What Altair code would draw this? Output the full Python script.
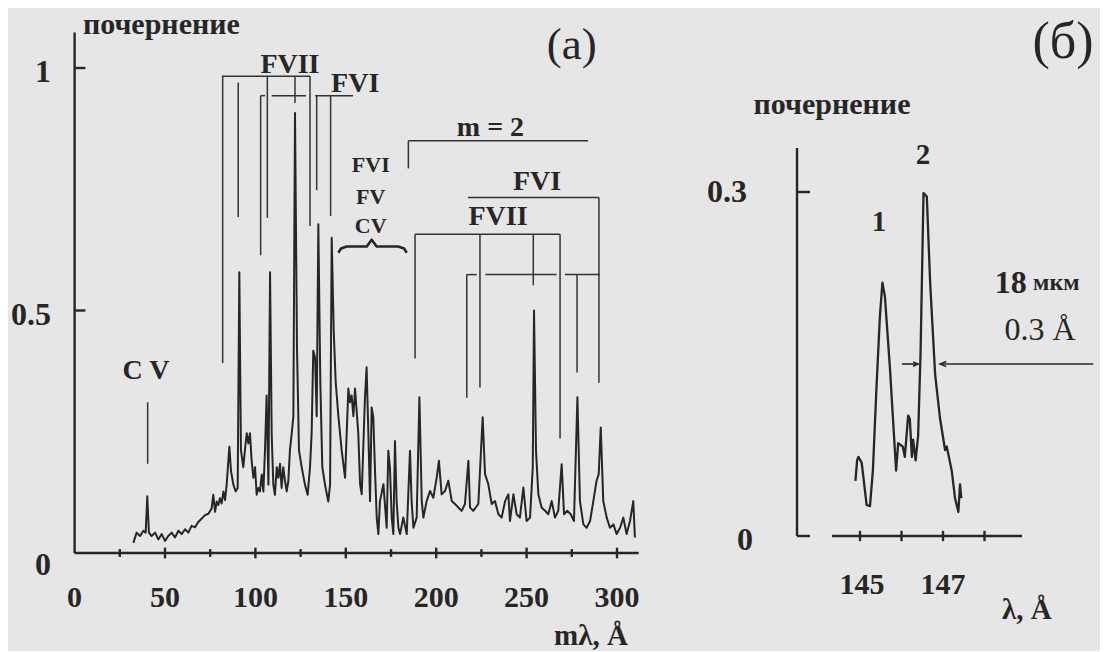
import altair as alt
import pandas as pd

# ---------------- data ----------------
# panel (a): blackening vs m*lambda (Angstrom)
left_x = [32.5, 34.3, 36.2, 38.0, 39.3, 40.2, 41.1, 42.6, 44.5, 46.3, 48.2, 50.0, 51.8, 53.7, 55.5,
          57.4, 59.2, 61.1, 62.9, 64.7, 66.6, 68.4, 70.3, 72.1, 74.0, 75.8, 76.7, 77.7, 78.6, 79.5,
          80.4, 81.3, 82.3, 83.2, 84.1, 85.6, 86.5, 87.8, 89.1, 90.2, 91.1, 92.0, 93.3, 94.2, 95.2,
          96.1, 97.0, 97.9, 98.9, 99.8, 100.7, 101.6, 102.5, 103.5, 104.4, 105.3, 106.2, 107.2, 108.1,
          109.0, 109.9, 110.8, 111.8, 112.7, 113.6, 114.5, 115.4, 116.4, 117.3, 118.2, 119.1, 120.1,
          121.0, 121.9, 123.0, 124.1, 125.6, 127.4, 128.9, 130.2, 131.1, 132.0, 133.0, 133.9, 134.8,
          135.9, 137.0, 138.5, 140.3, 141.3, 142.2, 143.3, 144.4, 145.9, 147.7, 149.6, 151.4, 152.3,
          153.2, 154.2, 155.1, 156.9, 157.9, 158.8, 160.6, 161.5, 162.5, 163.4, 164.3, 165.2, 166.1,
          167.1, 168.0, 168.9, 170.8, 172.6, 173.5, 174.4, 175.4, 176.3, 177.2, 178.1, 179.1, 180.0,
          181.8, 183.7, 185.5, 186.4, 187.4, 189.2, 190.7, 192.0, 192.9, 194.7, 196.6, 198.4, 200.3,
          201.5, 203.0, 204.9, 206.7, 208.6, 210.4, 212.2, 214.1, 215.9, 217.8, 218.7, 220.5, 223.3,
          225.7, 227.0, 228.8, 230.7, 232.5, 234.4, 236.2, 238.1, 239.9, 240.8, 242.7, 244.5, 246.3,
          248.2, 250.0, 251.9, 253.4, 254.1, 255.2, 256.5, 258.3, 260.2, 262.0, 263.9, 265.7, 267.5,
          269.4, 270.7, 272.5, 274.4, 276.2, 278.1, 279.5, 281.4, 283.2, 285.1, 286.9, 288.7, 289.9,
          291.0, 292.4, 294.3, 296.1, 298.0, 299.8, 301.7, 303.5, 305.3, 307.2, 309.0, 309.9]
left_v = [0.021, 0.042, 0.035, 0.046, 0.042, 0.117, 0.042, 0.035, 0.042, 0.028, 0.039, 0.025, 0.035,
          0.042, 0.032, 0.046, 0.039, 0.049, 0.042, 0.056, 0.053, 0.064, 0.071, 0.078, 0.081, 0.092,
          0.120, 0.085, 0.106, 0.099, 0.113, 0.102, 0.127, 0.109, 0.141, 0.219, 0.169, 0.141, 0.127,
          0.134, 0.579, 0.212, 0.177, 0.212, 0.247, 0.226, 0.247, 0.191, 0.155, 0.177, 0.120, 0.134,
          0.127, 0.162, 0.127, 0.212, 0.325, 0.141, 0.579, 0.247, 0.141, 0.120, 0.177, 0.155, 0.184,
          0.134, 0.177, 0.148, 0.127, 0.148, 0.212, 0.247, 0.282, 0.907, 0.424, 0.212, 0.177, 0.141,
          0.120, 0.177, 0.247, 0.417, 0.403, 0.282, 0.678, 0.353, 0.177, 0.141, 0.106, 0.141, 0.650,
          0.459, 0.353, 0.282, 0.212, 0.155, 0.339, 0.311, 0.325, 0.282, 0.339, 0.247, 0.142, 0.121,
          0.321, 0.383, 0.245, 0.107, 0.300, 0.280, 0.176, 0.073, 0.039, 0.107, 0.142, 0.052, 0.211,
          0.176, 0.073, 0.039, 0.231, 0.107, 0.052, 0.039, 0.073, 0.039, 0.211, 0.107, 0.052, 0.073,
          0.321, 0.107, 0.073, 0.107, 0.128, 0.114, 0.156, 0.190, 0.121, 0.128, 0.149, 0.107, 0.101,
          0.094, 0.087, 0.101, 0.190, 0.094, 0.087, 0.101, 0.280, 0.163, 0.142, 0.101, 0.107, 0.080,
          0.073, 0.107, 0.121, 0.066, 0.121, 0.080, 0.073, 0.135, 0.066, 0.073, 0.176, 0.500, 0.211,
          0.121, 0.094, 0.087, 0.080, 0.107, 0.073, 0.087, 0.183, 0.080, 0.087, 0.080, 0.066, 0.321,
          0.107, 0.059, 0.052, 0.066, 0.107, 0.149, 0.163, 0.259, 0.107, 0.073, 0.052, 0.059, 0.039,
          0.052, 0.073, 0.039, 0.066, 0.107, 0.032]

# panel (б): blackening vs lambda (Angstrom)
right_lam = [144.89, 144.93, 144.96, 145.04, 145.16, 145.24, 145.31, 145.40, 145.48, 145.54, 145.60,
             145.72, 145.87, 145.92, 146.03, 146.08, 146.16, 146.20, 146.25, 146.28, 146.34, 146.40,
             146.46, 146.53, 146.61, 146.69, 146.81, 146.93, 147.05, 147.09, 147.21, 147.29, 147.37,
             147.41, 147.44]
right_v = [0.048, 0.066, 0.069, 0.064, 0.027, 0.026, 0.057, 0.132, 0.192, 0.221, 0.209, 0.147, 0.057,
           0.081, 0.078, 0.069, 0.105, 0.102, 0.069, 0.084, 0.066, 0.087, 0.161, 0.299, 0.296, 0.221,
           0.141, 0.102, 0.075, 0.078, 0.057, 0.033, 0.021, 0.045, 0.033]

# axes / ticks
left_major = [50, 100, 150, 200, 250, 300]
left_minor = [25, 75, 125, 175, 225, 275]
left_xlabels = ["0", "50", "100", "150", "200", "250", "300"]
left_xlabel_pos = [0, 50, 100, 150, 200, 250, 300]
left_yticks = [0.5, 1.0]
left_ylabels = ["0", "0.5", "1"]
left_ylabel_pos = [-0.025, 0.49, 0.992]
right_xticks = [145, 146, 147, 148]
right_xlabels = ["145", "147"]
right_xlabel_pos = [145.05, 147.0]
right_yticks = [0.0, 0.3]

# line identifications (x position, top, bottom) in data units
fvii_a = [(81.9, 0.983, 0.392), (90.5, 0.970, 0.693), (106.6, 0.983, 0.691),
          (121.9, 0.983, 0.928), (130.2, 0.983, 0.674)]
fvi_a = [(102.9, 0.943, 0.614), (133.9, 0.943, 0.748), (141.6, 0.943, 0.695)]
fvi_a_bar = [(102.9, 105.3), (109.0, 128.0), (133.0, 154.0)]
cv_mark = (40.4, 0.311, 0.184)
m2_bar = (184.6, 284.0, 0.850, 0.793)
fvi_b_outer = (217.6, 290.0, 0.733, 0.351)
fvii_b = [(188.3, 0.657, 0.401), (224.2, 0.657, 0.341), (253.7, 0.657, 0.552), (268.5, 0.657, 0.236)]
fvii_b_bar = (188.3, 268.5, 0.657)
fvi_b_inner = [(216.9, 0.574, 0.320), (277.9, 0.574, 0.372)]
fvi_b_inner_bar = [(216.9, 222.4), (227.2, 266.6), (271.2, 290.6)]
fvi_b_inner_y = 0.574
brace_x = [145.9, 147.4, 150.5, 161.6, 164.3, 167.1, 179.0, 182.2, 183.7]
brace_v = [0.619, 0.628, 0.632, 0.632, 0.646, 0.632, 0.632, 0.628, 0.619]

# ---------------- styling ----------------
FONT = "Liberation Serif"
INK = "#262626"
BG = "#e6e6e6"

LX = alt.Scale(domain=[-36.84, 350.33], nice=False, zero=False)
LY = alt.Scale(domain=[-0.1876, 1.1237], nice=False, zero=False)
RX = alt.Scale(domain=[141.337, 150.783], nice=False, zero=False)
RY = alt.Scale(domain=[-0.0942, 0.4605], nice=False, zero=False)


def segs(rows, sx, sy, width=1.6, color=INK):
    df = pd.DataFrame(rows, columns=["x", "x2", "y", "y2"])
    return alt.Chart(df).mark_rule(color=color, strokeWidth=width, strokeCap="butt").encode(
        x=alt.X("x:Q", scale=sx, axis=None), x2="x2:Q",
        y=alt.Y("y:Q", scale=sy, axis=None), y2="y2:Q")


def texts(rows, sx, sy, size, weight="bold", align="center", baseline="middle"):
    df = pd.DataFrame(rows, columns=["x", "y", "t"])
    return alt.Chart(df).mark_text(font=FONT, fontSize=size, fontWeight=weight, align=align,
                                   baseline=baseline, color=INK).encode(
        x=alt.X("x:Q", scale=sx, axis=None), y=alt.Y("y:Q", scale=sy, axis=None), text="t:N")


def curve(xs, ys, sx, sy, width=1.8):
    df = pd.DataFrame({"x": xs, "y": ys, "o": list(range(len(xs)))})
    return alt.Chart(df).mark_line(color=INK, strokeWidth=width, strokeJoin="round").encode(
        x=alt.X("x:Q", scale=sx, axis=None), y=alt.Y("y:Q", scale=sy, axis=None), order="o:Q")


# ---------------- panel (a) ----------------
ax_rows = [(0, 0, 0, 1.073), (0, 312, 0, 0)]
ax_rows += [(0, 6, t, t) for t in left_yticks]
ax_rows += [(t, t, -0.011, 0.011) for t in left_major]
ax_rows += [(t, t, -0.008, 0.008) for t in left_minor]

ann = []
for x, t, b in fvii_a + fvi_a:
    ann.append((x, x, t, b))
ann.append((81.4, 130.2, 0.983, 0.983))
for a, b in fvi_a_bar:
    ann.append((a, b, 0.943, 0.943))
ann.append((cv_mark[0], cv_mark[0], cv_mark[1], cv_mark[2]))
ann.append((m2_bar[0], m2_bar[1], m2_bar[2], m2_bar[2]))
ann.append((m2_bar[0], m2_bar[0], m2_bar[2], m2_bar[3]))
ann.append((fvi_b_outer[0], fvi_b_outer[1], fvi_b_outer[2], fvi_b_outer[2]))
ann.append((fvi_b_outer[1], fvi_b_outer[1], fvi_b_outer[2], fvi_b_outer[3]))
ann.append((fvii_b_bar[0], fvii_b_bar[1], fvii_b_bar[2], fvii_b_bar[2]))
for x, t, b in fvii_b + fvi_b_inner:
    ann.append((x, x, t, b))
for a, b in fvi_b_inner_bar:
    ann.append((a, b, fvi_b_inner_y, fvi_b_inner_y))

left_text_big = [(x, -0.093, s) for x, s in zip(left_xlabel_pos, left_xlabels)]
left_ylab = [(-13.0, p, s) for p, s in zip(left_ylabel_pos, left_ylabels)]

left = alt.layer(
    segs(ax_rows, LX, LY, width=2.4),
    segs(ann, LX, LY, width=1.5, color="#333333"),
    curve(brace_x, brace_v, LX, LY, width=2.6),
    curve(left_x, left_v, LX, LY, width=2.0),
    texts(left_text_big, LX, LY, 30),
    texts(left_ylab, LX, LY, 32, align="right"),
    texts([(306.0, -0.171, "mλ, Å")], LX, LY, 29, align="right"),
    texts([(4.6, 1.089, "почернение")], LX, LY, 30, align="left"),
    texts([(39.5, 0.375, "C V")], LX, LY, 28),
    texts([(119.1, 1.006, "FVII"), (155.2, 0.968, "FVI"), (230.0, 0.876, "m = 2"),
           (255.8, 0.764, "FVI"), (234.2, 0.692, "FVII")], LX, LY, 28),
    texts([(163.8, 0.799, "FVI"), (163.8, 0.735, "FV"), (163.8, 0.674, "CV")], LX, LY, 22),
    texts([(275.0, 1.047, "(a)")], LX, LY, 45, weight="normal"),
).properties(width=700, height=636)

# ---------------- panel (б) ----------------
rax = [(143.482, 143.482, 0, 0.3384), (144.325, 148.904, 0, 0)]
rax += [(143.482, 143.795, t, t) for t in right_yticks]
rax += [(t, t, -0.0045, 0.0045) for t in right_xticks]

ARROW_Y = 0.150
arrow_rows = [(146.93, 150.62, ARROW_Y, ARROW_Y), (146.01, 146.40, ARROW_Y, ARROW_Y)]
heads = pd.DataFrame({"x": [146.93, 146.40], "y": [ARROW_Y, ARROW_Y]})
head_l = alt.Chart(heads.iloc[[0]]).mark_point(shape="M1.3,-0.55L0,0L1.3,0.55", size=90, filled=False,
                                               color=INK, strokeWidth=1.6, opacity=1).encode(
    x=alt.X("x:Q", scale=RX, axis=None), y=alt.Y("y:Q", scale=RY, axis=None))
head_r = alt.Chart(heads.iloc[[1]]).mark_point(shape="M-1.3,-0.55L0,0L-1.3,0.55", size=60, filled=False,
                                               color=INK, strokeWidth=1.6, opacity=1).encode(
    x=alt.X("x:Q", scale=RX, axis=None), y=alt.Y("y:Q", scale=RY, axis=None))

right = alt.layer(
    segs(rax, RX, RY, width=2.4),
    segs(arrow_rows, RX, RY, width=1.6),
    head_l, head_r,
    curve(right_lam, right_v, RX, RY, width=2.3),
    texts([(x, -0.0427, s) for x, s in zip(right_xlabel_pos, right_xlabels)], RX, RY, 30),
    texts([(142.277, 0.3, "0.3"), (142.42, -0.0035, "0")], RX, RY, 32, align="right"),
    texts([(149.02, -0.0645, "λ, Å")], RX, RY, 29),
    texts([(144.325, 0.3759, "почернение")], RX, RY, 30),
    texts([(145.458, 0.2738, "1"), (146.518, 0.3323, "2")], RX, RY, 29),
    texts([(149.02, 0.2206, "18")], RX, RY, 32, align="right"),
    texts([(149.17, 0.2206, "мкм")], RX, RY, 24, align="left"),
    texts([(149.34, 0.1796, "0.3 Å")], RX, RY, 32, weight="normal"),
    texts([(149.89, 0.4308, "(б)")], RX, RY, 52, weight="normal"),
).properties(width=392, height=636)

chart = alt.hconcat(left, right, spacing=0, bounds="flush").properties(
    padding=0, background=BG
).configure_view(strokeWidth=0)

chart.save("out.html", embed_options={"renderer": "svg", "actions": False})
